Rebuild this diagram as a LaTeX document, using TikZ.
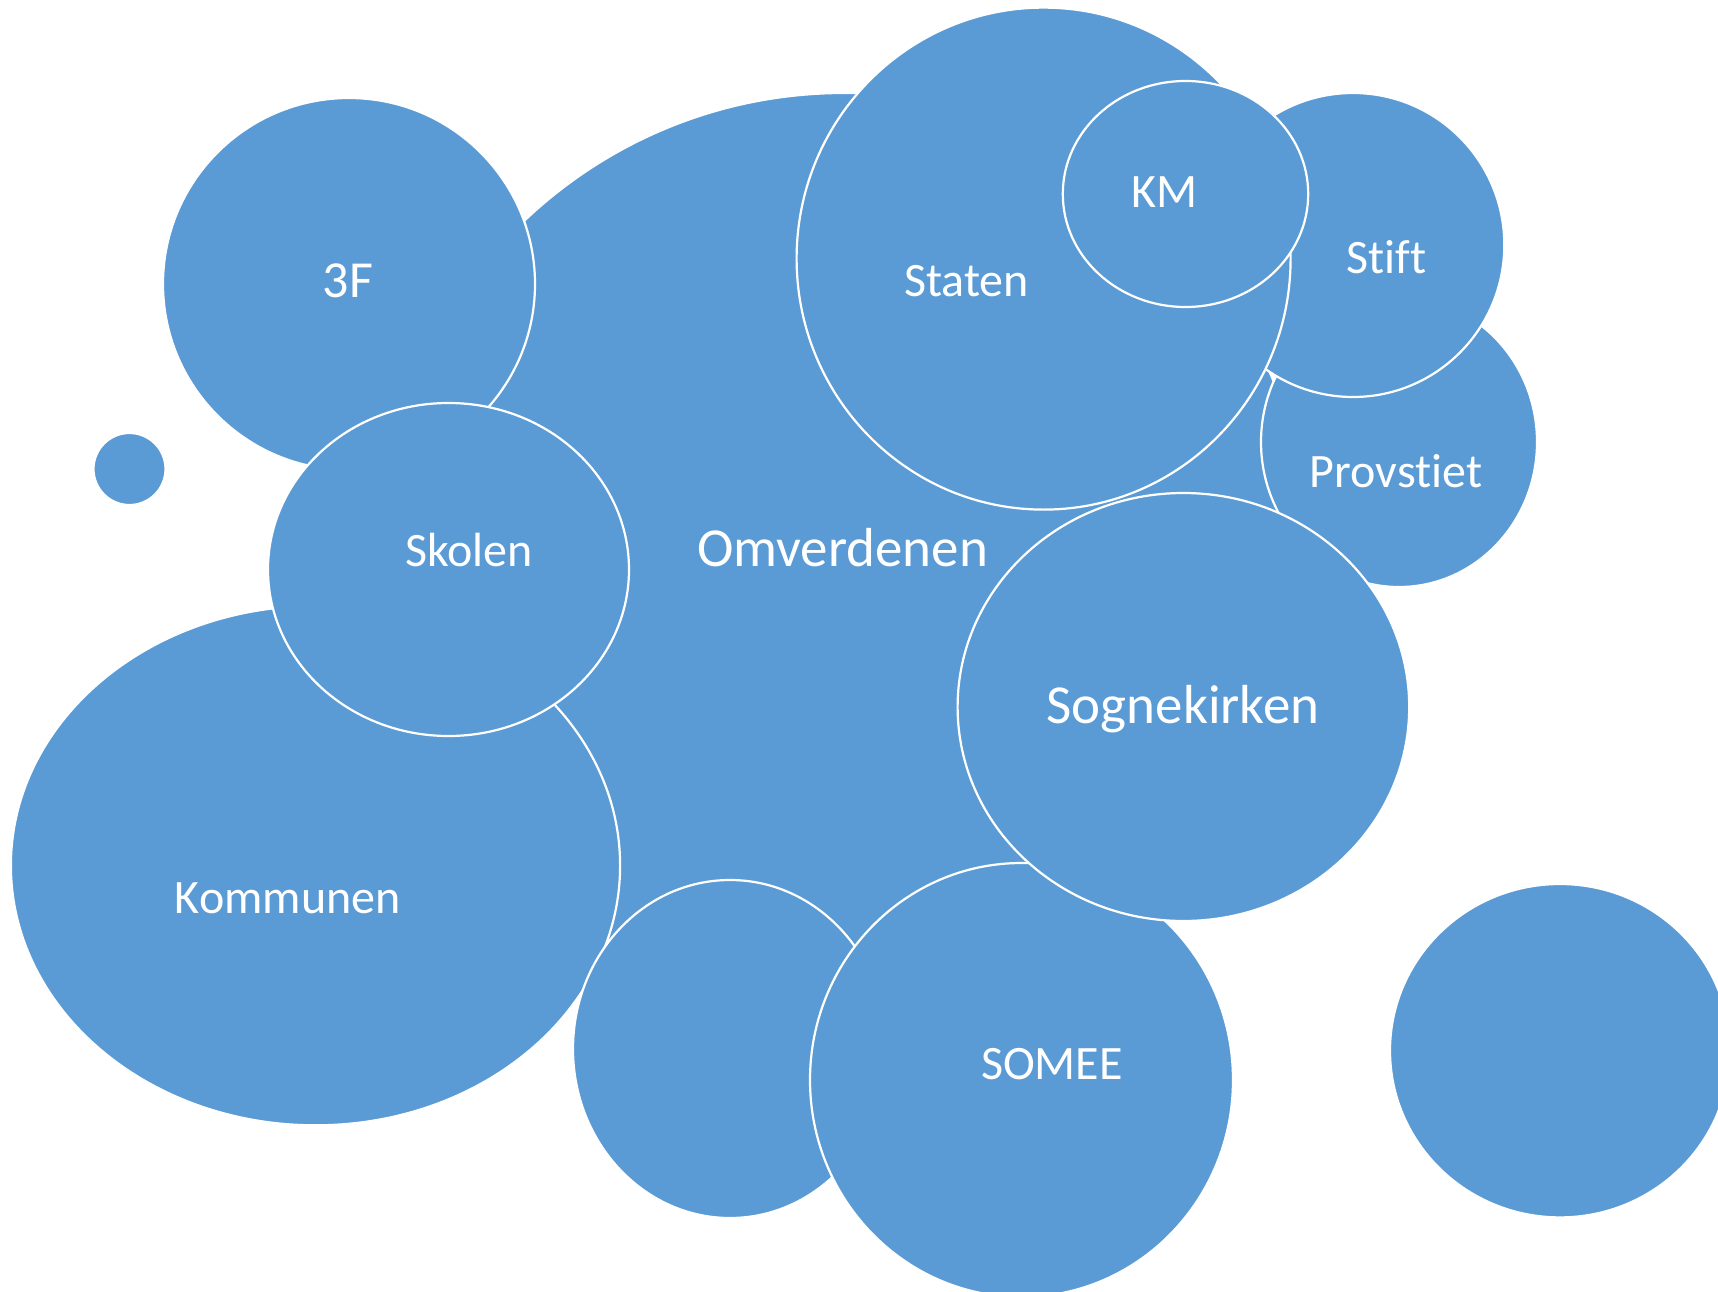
\documentclass[tikz,border=0pt]{standalone}
\usepackage{fontspec}
\setmainfont[Ligatures=NoCommon]{Carlito}
\definecolor{bubbleblue}{RGB}{91,155,213}

\begin{document}
\begin{tikzpicture}[x=1pt,y=-1pt,
  bubble/.style={fill=bubbleblue,draw=white,line width=2.2pt},
  lbl/.style={text=white,anchor=base,inner sep=0pt,font=\fontsize{48}{58}\selectfont},
  biglbl/.style={lbl,font=\fontsize{55}{66}\selectfont}]
\useasboundingbox (0,0) rectangle (1718,1292);
\clip (0,0) rectangle (1718,1292);
\draw[bubble] (844,557) ellipse [x radius=464,y radius=464];
\draw[bubble] (315.5,865.6) ellipse [x radius=304.6,y radius=259.7];
\draw[bubble] (349,284) ellipse [x radius=186,y radius=186];
\draw[bubble] (448.5,569.5) ellipse [x radius=180.5,y radius=166.5];
\draw[bubble] (129.5,469) ellipse [x radius=36,y radius=36];
\draw[bubble] (730,1049) ellipse [x radius=157,y radius=169];
\draw[bubble] (1399,442) ellipse [x radius=138,y radius=145];
\draw[bubble] (1353,245) ellipse [x radius=151.3,y radius=152];
\draw[bubble] (1043.6,258.6) ellipse [x radius=247,y radius=251];
\draw[bubble] (1185.5,194) ellipse [x radius=122.7,y radius=113];
\draw[bubble] (1021.5,1080) ellipse [x radius=211.5,y radius=217];
\draw[bubble] (1183.4,707) ellipse [x radius=225.8,y radius=214];
\draw[bubble] (1560,1050.7) ellipse [x radius=170,y radius=166.7];
\node[biglbl] (omverdenen) at (842.5,566) {Omverdenen};
\node[biglbl] (sognekirken) at (1183,723.3) {Sognekirken};
\node[lbl,font=\fontsize{52}{62}\selectfont] (trefem) at (348,297.7) {3F};
\node[lbl] (kommunen) at (287.8,913.3) {Kommunen};
\node[lbl] (skolen) at (469,566) {Skolen};
\node[lbl] (staten) at (966.7,296.7) {Staten};
\node[lbl] (km) at (1164.5,207.7) {KM};
\node[lbl] (stift) at (1386.7,273.6) {Stift};
\node[lbl] (provstiet) at (1396,487.5) {Provstiet};
\node[lbl] (somee) at (1052,1079) {SOMEE};
\end{tikzpicture}
\end{document}
